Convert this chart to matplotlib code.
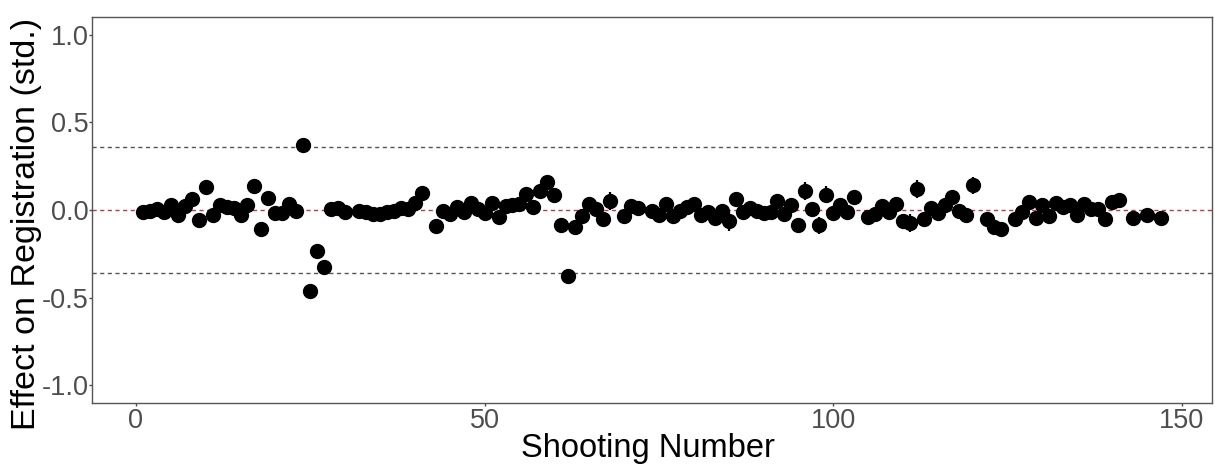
import matplotlib
matplotlib.use("Agg")
from matplotlib import pyplot as plt

# Shooting numbers (some shootings have no estimate)
shooting = [1, 2, 3, 4, 5, 6, 7, 8, 9, 10,
            11, 12, 13, 14, 15, 16, 17, 18, 19, 20,
            21, 22, 23, 24, 25, 26, 27, 28, 29, 30,
            32, 33, 34, 35, 36, 37, 38, 39, 40, 41,
            43, 44, 45, 46, 47, 48, 49, 50, 51, 52,
            53, 54, 55, 56, 57, 58, 59, 60, 61, 62,
            63, 64, 65, 66, 67, 68, 70, 71, 72, 74,
            75, 76, 77, 78, 79, 80, 81, 82, 83, 84,
            85, 86, 87, 88, 89, 90, 91, 92, 93, 94,
            95, 96, 97, 98, 99, 100, 101, 102, 103, 105,
            106, 107, 108, 109, 110, 111, 112, 113, 114, 115,
            116, 117, 118, 119, 120, 122, 123, 124, 126, 127,
            128, 129, 130, 131, 132, 133, 134, 135, 136, 137,
            138, 139, 140, 141, 143, 145, 147]

effect = [-0.013, -0.003, 0.007, -0.013, 0.031, -0.027, 0.020, 0.060, -0.056, 0.130,
          -0.031, 0.031, 0.016, 0.010, -0.027, 0.026, 0.136, -0.107, 0.070, -0.016,
          -0.016, 0.035, -0.003, 0.368, -0.463, -0.231, -0.324, 0.003, 0.010, -0.009,
          -0.005, -0.010, -0.020, -0.025, -0.010, -0.003, 0.010, 0.005, 0.039, 0.098,
          -0.092, -0.003, -0.022, 0.016, -0.013, 0.039, 0.003, -0.016, 0.041, -0.041,
          0.022, 0.030, 0.035, 0.092, 0.016, 0.111, 0.158, 0.083, -0.084, -0.377,
          -0.098, -0.037, 0.035, 0.007, -0.054, 0.050, -0.037, 0.022, 0.010, -0.003,
          -0.031, 0.035, -0.037, -0.005, 0.016, 0.035, -0.031, -0.009, -0.047, -0.003,
          -0.065, 0.060, -0.013, 0.010, -0.003, -0.016, -0.009, 0.050, -0.022, 0.026,
          -0.084, 0.107, 0.007, -0.088, 0.088, -0.016, 0.031, -0.013, 0.073, -0.041,
          -0.022, 0.022, -0.013, 0.035, -0.060, -0.073, 0.120, -0.054, 0.010, -0.016,
          0.026, 0.073, -0.008, -0.027, 0.140, -0.054, -0.098, -0.107, -0.050, -0.012,
          0.048, -0.047, 0.026, -0.037, 0.041, 0.016, 0.031, -0.031, 0.035, 0.003,
          0.003, -0.054, 0.045, 0.058, -0.047, -0.031, -0.047]

std_err = [0.02, 0.02, 0.02, 0.02, 0.02, 0.02, 0.02, 0.03, 0.02, 0.04,
           0.02, 0.02, 0.02, 0.02, 0.02, 0.02, 0.03, 0.03, 0.03, 0.02,
           0.02, 0.02, 0.02, 0.02, 0.02, 0.02, 0.02, 0.02, 0.02, 0.02,
           0.02, 0.02, 0.02, 0.02, 0.02, 0.02, 0.02, 0.02, 0.02, 0.03,
           0.03, 0.02, 0.02, 0.02, 0.02, 0.03, 0.02, 0.02, 0.03, 0.02,
           0.02, 0.02, 0.02, 0.03, 0.02, 0.03, 0.03, 0.03, 0.03, 0.02,
           0.03, 0.02, 0.03, 0.02, 0.03, 0.05, 0.02, 0.02, 0.02, 0.02,
           0.02, 0.04, 0.02, 0.02, 0.02, 0.02, 0.02, 0.02, 0.02, 0.02,
           0.055, 0.04, 0.02, 0.02, 0.02, 0.02, 0.02, 0.03, 0.02, 0.02,
           0.04, 0.05, 0.03, 0.05, 0.05, 0.03, 0.03, 0.03, 0.03, 0.02,
           0.02, 0.02, 0.02, 0.02, 0.04, 0.05, 0.05, 0.02, 0.02, 0.02,
           0.02, 0.03, 0.02, 0.02, 0.05, 0.02, 0.02, 0.02, 0.02, 0.02,
           0.02, 0.02, 0.02, 0.02, 0.02, 0.02, 0.02, 0.02, 0.02, 0.02,
           0.02, 0.02, 0.02, 0.03, 0.02, 0.02, 0.02]

cutoff = 0.36

plt.rcParams["font.family"] = ["Liberation Sans", "DejaVu Sans"]

fig = plt.figure(figsize=(12.15, 4.66), dpi=100)
ax = fig.add_axes([0.0757, 0.1352, 0.9218, 0.8283])

ax.axhline(cutoff, color="#555555", ls=(0, (3, 2.5)), lw=1, zorder=1)
ax.axhline(-cutoff, color="#555555", ls=(0, (3, 2.5)), lw=1, zorder=1)
ax.axhline(0, color="#9a4a4a", ls=(0, (3, 2.5)), lw=1, zorder=1)

ax.errorbar(shooting, effect, yerr=std_err, fmt="o", color="black",
            ms=10, elinewidth=1.6, capsize=0, zorder=3)

#Format plot
ax.set_xlim(-6.3, 154.3)
ax.set_ylim(-1.1, 1.1)
ax.set_xticks([0, 50, 100, 150])
ax.set_yticks([-1.0, -0.5, 0.0, 0.5, 1.0])
ax.set_yticklabels(["-1.0", "-0.5", "0.0", "0.5", "1.0"])
ax.tick_params(axis="both", which="major", labelsize=19.5, colors="#4d4d4d",
               length=2.5, width=1)
ax.tick_params(axis="y", pad=0)
ax.tick_params(axis="x", pad=1)
ax.set_xlabel("Shooting Number", fontsize=23.5)
ax.set_ylabel("Effect on Registration (std.)", fontsize=24.5)
ax.xaxis.set_label_coords(0.496, -0.078)
ax.yaxis.set_label_coords(-0.045, 0.464)

for side in ax.spines.values():
    side.set_color("#555555")
    side.set_linewidth(1)

fig.savefig("out.png", dpi=100)
